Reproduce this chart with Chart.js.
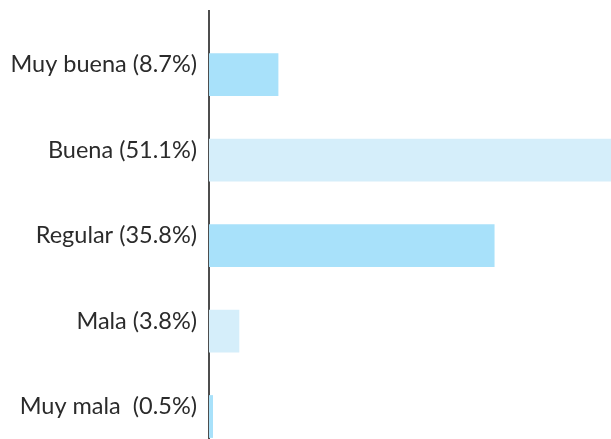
<!DOCTYPE html>
<html>
<head>
<meta charset="utf-8">
<script src="https://cdn.jsdelivr.net/npm/chart.js@4/dist/chart.umd.min.js"></script>
<style>
  html, body { margin: 0; padding: 0; background: #fff; overflow: hidden; }
</style>
</head>
<body>
<canvas id="chart" width="611" height="439"></canvas>
<script>
// Valoración (porcentaje de respuestas)
const categories = ['Muy buena (8.7%)', 'Buena (51.1%)', 'Regular (35.8%)', 'Mala (3.8%)', 'Muy mala  (0.5%)'];
const values     = [8.7, 51.1, 35.8, 3.8, 0.5];
const barColors  = ['#a8e1fa', '#d5eefa', '#a8e1fa', '#d5eefa', '#a8e1fa'];

const ctx = document.getElementById('chart').getContext('2d');

new Chart(ctx, {
  type: 'bar',
  data: {
    datasets: [{
      data: values.map((v, i) => ({ x: v, y: i })),
      backgroundColor: barColors,
      borderWidth: 0,
      barPercentage: 0.5,
      categoryPercentage: 1
    }]
  },
  options: {
    indexAxis: 'y',
    responsive: false,
    animation: false,
    layout: { padding: { top: 11, right: 0, bottom: 0, left: 0 } },
    plugins: { legend: { display: false }, tooltip: { enabled: false } },
    scales: {
      x: { display: false, min: 0, max: 50.4 },
      y: {
        type: 'linear',
        bounds: 'data',
        offset: false,
        reverse: true,
        min: -0.743,
        max: 4.263,
        grid: { display: false, drawTicks: false },
        border: { display: true, color: '#4d4d4d', width: 2 },
        afterBuildTicks: scale => { scale.ticks = categories.map((_, i) => ({ value: i })); },
        afterFit: scale => {
          scale.width = 209;
          scale.paddingTop = 0;
          scale.paddingBottom = 0;
        },
        ticks: {
          padding: 12,
          labelOffset: -10,
          color: '#2b2b2b',
          font: { family: 'Lato', size: 23.5 },
          callback: v => categories[v] ?? ''
        }
      }
    }
  }
});
</script>
</body>
</html>
